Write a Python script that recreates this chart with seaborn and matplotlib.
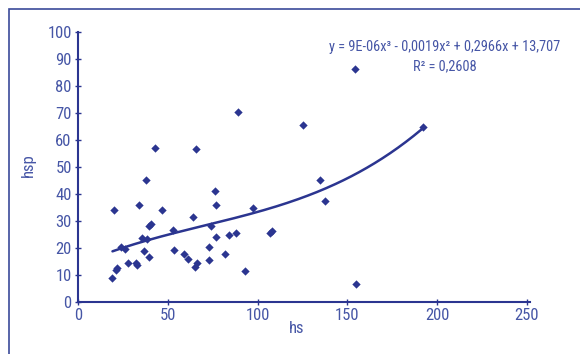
import numpy as np
import pandas as pd
import matplotlib
matplotlib.use("Agg")
import matplotlib.pyplot as plt
from matplotlib.patches import Rectangle
from matplotlib import font_manager
import seaborn as sns

# ---- data ----
hs = [19.2, 20.1, 21.8, 21.4, 24.2, 26.4, 28.1, 32.1, 32.8, 34.0,
      35.6, 36.9, 38.1, 38.4, 39.3, 39.4, 40.8, 43.0, 46.7, 52.7,
      53.7, 58.8, 61.3, 63.9, 65.0, 66.1, 65.5, 73.1, 72.9, 74.3,
      76.4, 76.6, 77.0, 82.1, 84.0, 88.0, 89.3, 93.1, 97.2, 107.0,
      107.8, 125.1, 134.7, 137.7, 154.1, 155.0, 192.1]
hsp = [8.9, 34.1, 12.7, 12.0, 20.3, 19.6, 14.4, 14.6, 13.6, 36.0,
       23.6, 18.9, 45.3, 23.3, 16.8, 28.0, 28.9, 57.0, 34.2, 26.8,
       19.1, 17.8, 15.9, 31.5, 13.0, 14.6, 56.8, 20.4, 15.6, 28.2,
       41.0, 35.9, 24.1, 17.8, 24.9, 25.7, 70.3, 11.5, 35.0, 25.6,
       26.4, 65.7, 45.1, 37.5, 86.3, 6.8, 64.8]
# cubic trend coefficients (from the equation shown in the chart)
trend_coef = [9e-06, -0.0019, 0.2966, 13.707]
x_ticks = [0, 50, 100, 150, 200, 250]
y_ticks = [0, 10, 20, 30, 40, 50, 60, 70, 80, 90, 100]
equation_text = "y = 9E-06x³ - 0,0019x² + 0,2966x + 13,707"
r2_text = "R² = 0,2608"
x_label = "hs"
y_label = "hsp"

sns.set_theme(style="white")
names = {f.name for f in font_manager.fontManager.ttflist}
fam = "DejaVu Sans"
for cand in ["Liberation Sans Narrow", "Roboto Condensed", "Roboto", "Liberation Sans"]:
    if cand in names:
        fam = cand
        break
plt.rcParams["font.family"] = [fam, "DejaVu Sans"]

navy = "#2b3590"
txt = "#4656a6"

df = pd.DataFrame({"hs": hs, "hsp": hsp})
xs = np.linspace(min(hs), max(hs), 200)
trend = pd.DataFrame({"hs": xs, "hsp": np.polyval(trend_coef, xs)})

fig = plt.figure(figsize=(5.8, 3.54), dpi=100)
ax = fig.add_axes([78/580, 1-302/354, (530-78)/580, (302-32)/354])

sns.lineplot(data=trend, x="hs", y="hsp", ax=ax, color=navy, lw=1.8)
sns.scatterplot(data=df, x="hs", y="hsp", ax=ax, color=navy, marker="D",
                s=18, linewidth=0, zorder=3)

ax.set_xlim(0, 251.7)
ax.set_ylim(0, 100)
ax.set_xticks(x_ticks)
ax.set_yticks(y_ticks)
for s in ["top", "right"]:
    ax.spines[s].set_visible(False)
for s in ["left", "bottom"]:
    ax.spines[s].set_color(navy)
    ax.spines[s].set_linewidth(1.5)
ax.tick_params(axis="both", direction="inout", length=5, width=1,
               color=navy, labelcolor=txt, labelsize=12, pad=2, left=True, bottom=True)
ax.set_xlabel(x_label, color=txt, fontsize=12)
ax.set_ylabel(y_label, color=txt, fontsize=12)
ax.xaxis.set_label_coords((297-78)/452, -0.07)
ax.yaxis.set_label_coords(-(78-36)/452, (302-165)/270)

fig.text(445/580, 1-47/354, equation_text, color=txt, fontsize=10.4,
         ha="center", va="center")
fig.text(445/580, 1-66/354, r2_text, color=txt, fontsize=10.4,
         ha="center", va="center")

fig.add_artist(Rectangle((9/580, -0.2), 1.2, 1.2 - 9/354,
                         transform=fig.transFigure, fill=False,
                         edgecolor="#3b4a9a", lw=1.2))

fig.savefig("out.png", dpi=100, facecolor="white")
